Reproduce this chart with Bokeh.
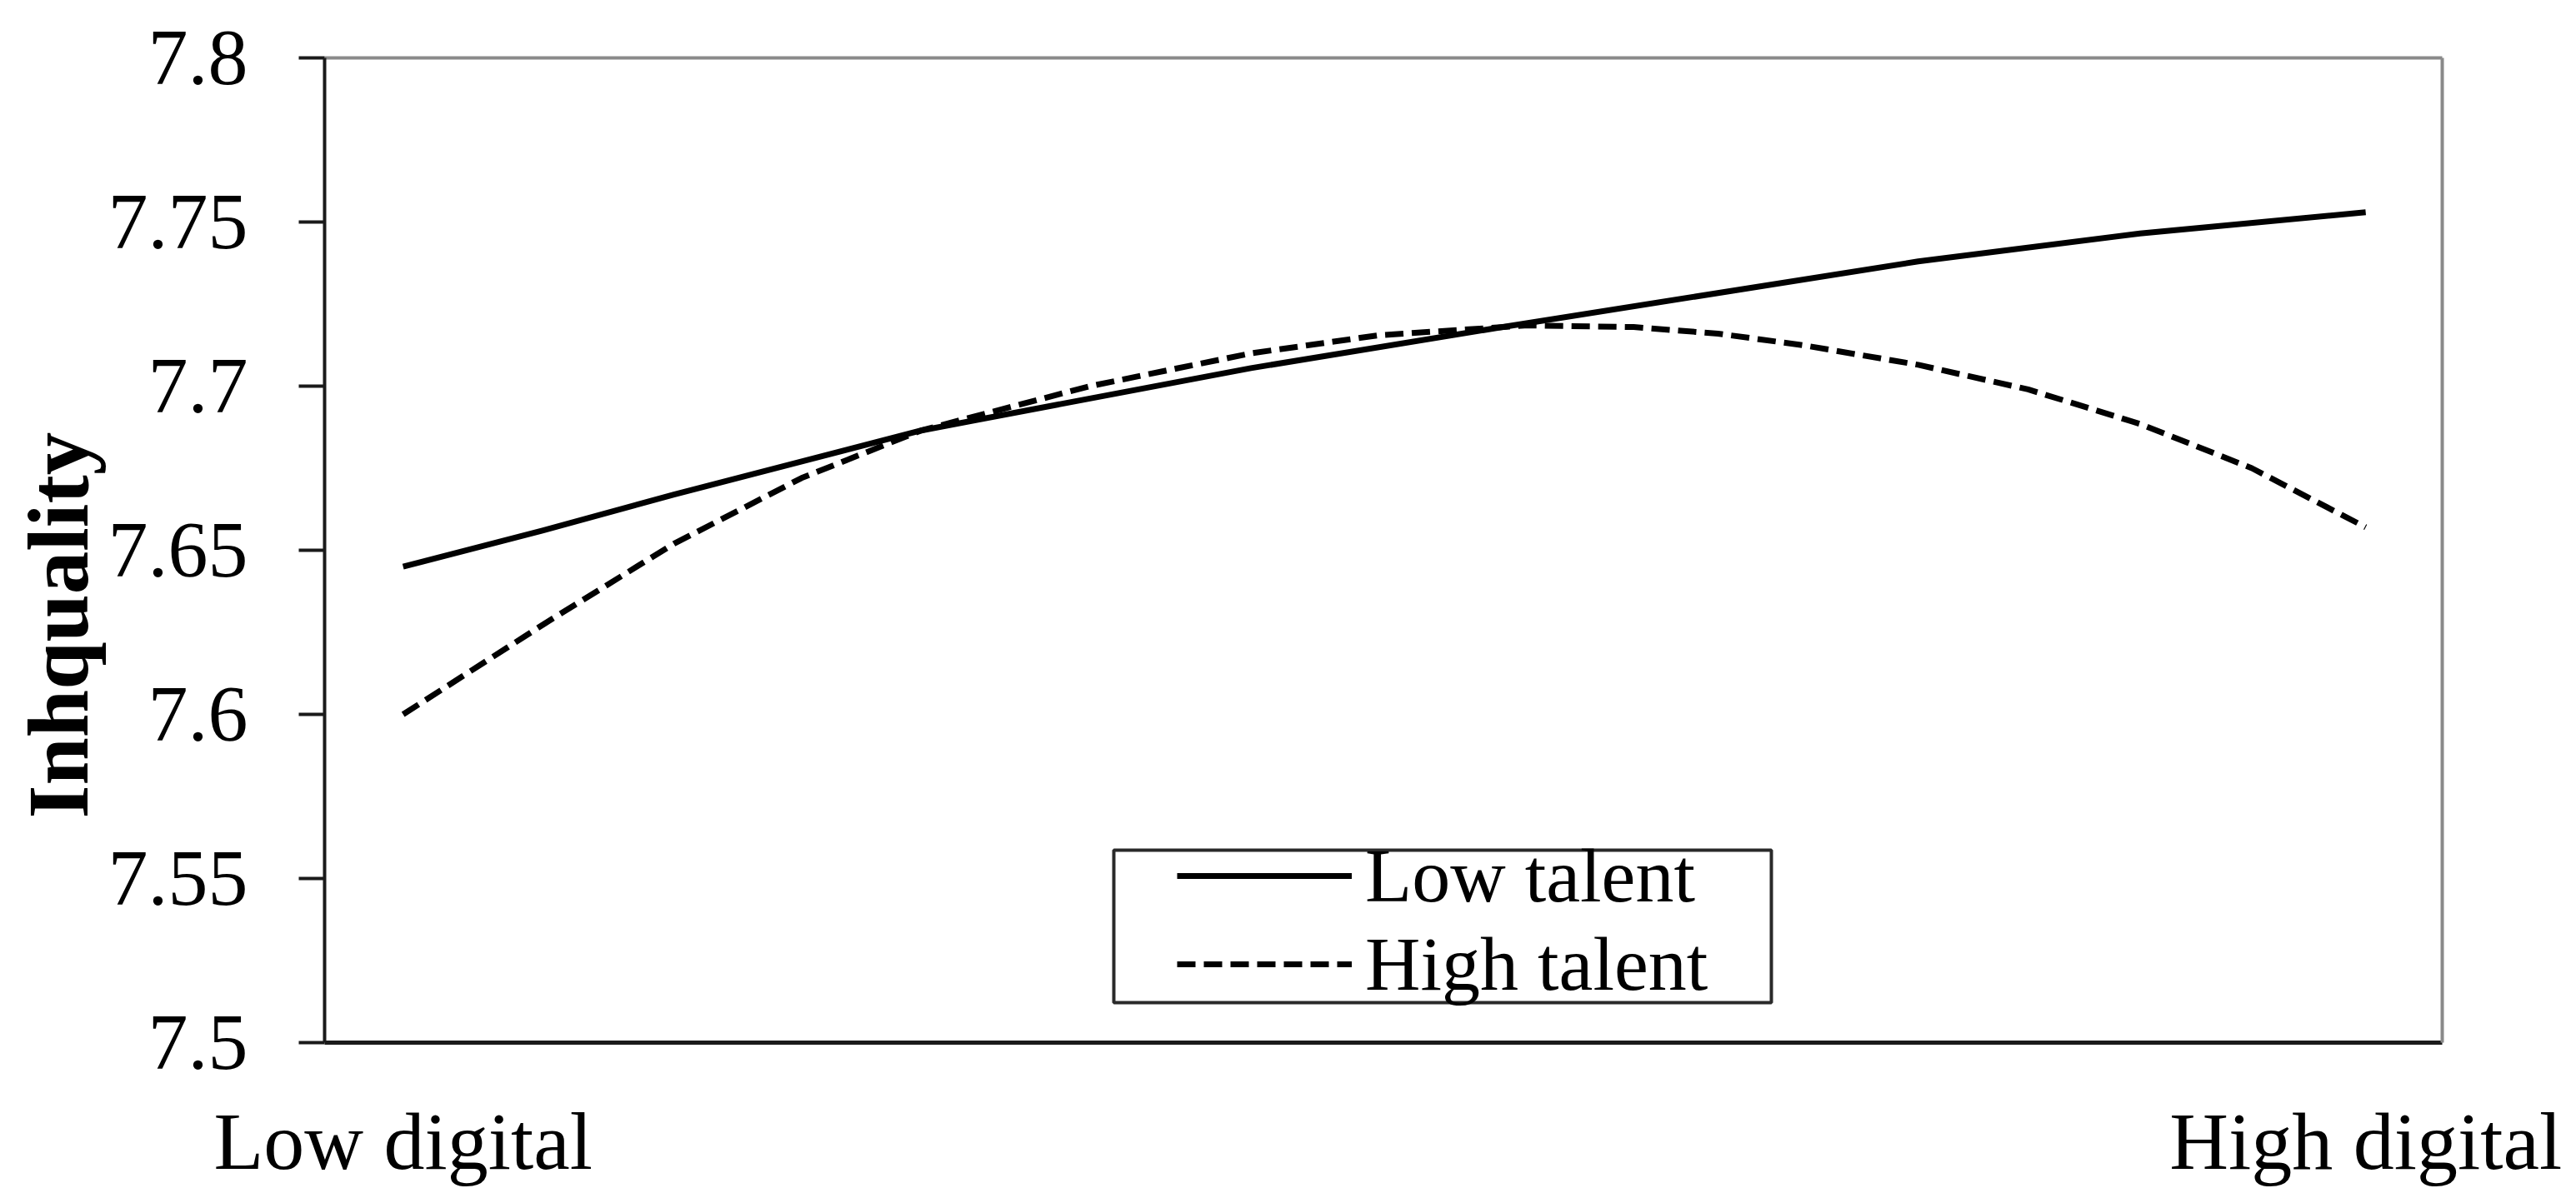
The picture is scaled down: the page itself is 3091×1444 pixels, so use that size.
from bokeh.plotting import figure
from bokeh.models import (Range1d, FixedTicker, LinearAxis, Legend, LegendItem,
                          Title, BoxAnnotation)
from bokeh.embed import file_html
from bokeh.resources import INLINE

# ---- data ----
x_tick_values = [0, 1]
x_tick_labels = ["Low digital", "High digital"]

y_tick_values = [7.5, 7.55, 7.6, 7.65, 7.7, 7.75, 7.8]
y_tick_labels = ["7.5", "7.55", "7.6", "7.65", "7.7", "7.75", "7.8"]

low_talent_x = [0.0, 0.071, 0.138, 0.264, 0.432, 0.557, 0.772, 0.885, 1.0]
low_talent_y = [7.645, 7.656, 7.667, 7.6865, 7.7055, 7.7177, 7.738, 7.7465, 7.753]

high_talent_x = [0.0, 0.073, 0.138, 0.203, 0.264, 0.35, 0.432, 0.497, 0.573,
                 0.627, 0.670, 0.713, 0.772, 0.828, 0.885, 0.942, 1.0]
high_talent_y = [7.600, 7.628, 7.652, 7.672, 7.6865, 7.700, 7.710, 7.7155, 7.7185,
                 7.718, 7.716, 7.7125, 7.7065, 7.699, 7.6885, 7.675, 7.657]

series_names = ["Low talent", "High talent"]
y_title = "Inhquality"

FONT = "Liberation Serif"

p = figure(width=3075, height=1428, output_backend="svg", toolbar_location=None,
           x_range=Range1d(-0.04, 1.039), y_range=Range1d(7.5, 7.8),
           min_border_left=389, min_border_right=145,
           min_border_top=69, min_border_bottom=177)
p.outline_line_color = None
p.xgrid.visible = False
p.ygrid.visible = False
p.background_fill_color = "white"
p.border_fill_color = "white"

# y axis
ya = p.yaxis[0]
ya.ticker = FixedTicker(ticks=y_tick_values)
ya.major_label_overrides = {v: l for v, l in zip(y_tick_values, y_tick_labels)}
ya.major_tick_out = 31
ya.major_tick_in = 0
ya.minor_tick_line_color = None
ya.axis_line_width = 4
ya.axis_line_color = "#1a1a1a"
ya.major_tick_line_width = 4
ya.major_tick_line_color = "#1a1a1a"
ya.major_label_standoff = 61
ya.major_label_text_font = FONT
ya.major_label_text_font_size = "96px"
ya.major_label_text_color = "black"

# x axis
xa = p.xaxis[0]
xa.ticker = FixedTicker(ticks=x_tick_values)
xa.major_label_overrides = {v: l for v, l in zip(x_tick_values, x_tick_labels)}
xa.major_tick_line_color = None
xa.minor_tick_line_color = None
xa.axis_line_width = 5
xa.axis_line_color = "#1a1a1a"
xa.major_label_standoff = 58
xa.major_label_text_font = FONT
xa.major_label_text_font_size = "98px"
xa.major_label_text_color = "black"

# grey top / right frame lines
for side in ("above", "right"):
    ax = LinearAxis(ticker=FixedTicker(ticks=[]), axis_line_color="#8a8a8a",
                    axis_line_width=4, major_tick_line_color=None,
                    minor_tick_line_color=None, major_label_text_font_size="0px")
    p.add_layout(ax, side)

# y axis title
p.add_layout(Title(text=y_title, align="left", offset=269, standoff=0,
                   vertical_align="bottom", text_font=FONT,
                   text_font_size="103px", text_font_style="bold",
                   text_color="black"), "left")

r_low = p.line(low_talent_x, low_talent_y, line_color="black", line_width=7,
               line_join="round")
r_high = p.line(high_talent_x, high_talent_y, line_color="black", line_width=7,
                line_dash="22 10")

# legend frame
p.add_layout(BoxAnnotation(left=947, right=1736, bottom=48, top=231,
                           left_units="screen", right_units="screen",
                           bottom_units="screen", top_units="screen",
                           fill_color="white", fill_alpha=1.0,
                           line_color="#2a2a2a", line_alpha=1.0, line_width=4))

legend = Legend(items=[LegendItem(label=series_names[0], renderers=[r_low]),
                       LegendItem(label=series_names[1], renderers=[r_high])],
                location=(1023, 41), padding=0, margin=0, spacing=-12,
                glyph_width=210, glyph_height=92, label_height=92,
                label_standoff=16, label_text_font=FONT,
                label_text_font_size="92px", label_text_color="black",
                border_line_color=None, background_fill_alpha=0)
p.add_layout(legend, "center")

open("out.html", "w").write(file_html(p, INLINE))
